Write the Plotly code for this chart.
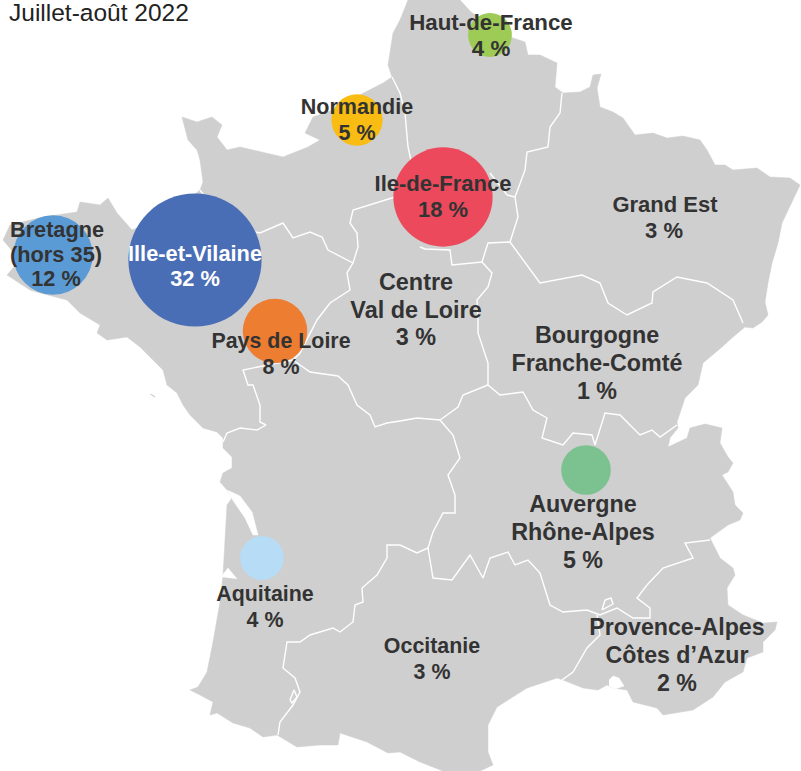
import plotly.graph_objects as go

# ---- Data -------------------------------------------------------------
regions = ["Bretagne", "Ille-et-Vilaine", "Pays de Loire", "Normandie", "Ile-de-France",
           "Haut-de-France", "Auvergne Rhône-Alpes", "Aquitaine"]
bubble_share = [11.5, 32.4, 7.6, 4.8, 18.0, 3.5, 4.5, 3.5]
bubble_x = [53, 195, 275, 357, 443, 490, 586, 262]
bubble_y = [255, 260, 331, 120, 197, 35, 470, 558]
bubble_colors = ["#5B9BD5", "#4A6EB5", "#ED7D31", "#F8BC12", "#EC4A5C", "#9ECB55", "#7CC190", "#B6DCF6"]

title_text = "Juillet-août 2022"

label_lines = ["Bretagne", "(hors 35)", "12 %", "Ille-et-Vilaine", "32 %", "Pays de Loire", "8 %",
               "Normandie", "5 %", "Ile-de-France", "18 %", "Haut-de-France", "4 %",
               "Grand Est", "3 %", "Centre", "Val de Loire", "3 %",
               "Bourgogne", "Franche-Comté", "1 %", "Auvergne", "Rhône-Alpes", "5 %",
               "Aquitaine", "4 %", "Occitanie", "3 %", "Provence-Alpes", "Côtes d’Azur", "2 %"]
label_x = [57, 56, 56, 195, 195, 281, 281, 357, 357, 443, 443, 491, 491,
           665, 664, 416, 416, 416, 597, 597, 597, 583, 583, 583, 265, 265, 432, 432, 677, 677, 677]
label_y = [232, 257, 281, 256, 281, 343, 369, 109, 135, 185, 211, 24, 50,
           206, 232, 284, 312, 339, 337, 365, 393, 506, 534, 562, 596, 622, 648, 674, 629, 657, 685]
label_size = [21.7, 21.8, 21.7, 21.8, 21.8, 21.4, 21.4, 21.5, 21.5, 22, 22, 22.3, 22.3,
              22, 22, 23.4, 23.4, 23.4, 23.3, 23.3, 23.3, 23.3, 23.3, 23.3, 21.4, 21.4, 21.4, 21.4, 23.2, 23.2, 23.2]

# Map outline, in the map's own units
country_x = [460, 471, 490, 510, 525, 528, 540, 557, 555, 563, 580, 590, 593, 601, 597, 600, 613, 623, 635, 653, 667,
             683, 700, 707, 715, 725, 733, 757, 770, 790, 800, 790, 782, 778, 772, 768, 765, 768, 762, 753, 745, 733,
             722, 703, 698, 685, 677, 678, 670, 668, 687, 690, 705, 722, 720, 728, 733, 728, 722, 733, 735, 743, 740,
             728, 710, 720, 733, 735, 727, 728, 743, 763, 777, 775, 763, 763, 747, 743, 725, 713, 693, 663, 657, 633,
             627, 613, 607, 598, 583, 563, 557, 527, 513, 497, 488, 488, 493, 480, 443, 420, 400,
             388, 367, 340, 338, 320, 297, 277, 263, 250, 233, 217, 210, 213, 200, 190, 198, 207, 213, 220, 223, 225,
             227, 232, 227, 220, 223, 232, 232, 223, 223, 217, 203, 190, 183, 177, 167, 163, 155, 140, 127, 107, 97,
             100, 80, 67, 40, 30, 7, 20, 3, 10, 43, 77, 80, 100, 108, 117, 132, 170, 200, 203, 200, 197, 188, 182,
             197, 212, 222, 217, 227, 240, 283, 308, 320, 305, 313, 333, 350, 383, 392, 388, 393, 400, 408, 460]
country_y = [0, 12, 25, 37, 42, 55, 55, 63, 87, 93, 92, 87, 75, 74, 88, 107, 112, 118, 135, 133, 138,
             136, 140, 150, 165, 165, 170, 168, 177, 178, 185, 207, 223, 243, 263, 283, 302, 315, 322, 328, 327, 337,
             347, 363, 385, 398, 422, 428, 438, 447, 438, 428, 424, 428, 443, 457, 463, 472, 475, 492, 505, 513, 520,
             525, 538, 558, 568, 575, 588, 605, 615, 623, 622, 630, 642, 652, 658, 672, 682, 697, 710, 715, 708, 702,
             690, 688, 685, 690, 688, 680, 678, 688, 697, 707, 725, 752, 765, 771, 771, 762, 752,
             753, 742, 733, 745, 745, 747, 735, 737, 728, 723, 713, 715, 702, 695, 690, 687, 672, 642, 602, 575, 535,
             505, 498, 490, 482, 473, 468, 457, 448, 438, 432, 428, 415, 405, 393, 385, 370, 362, 347, 337, 340, 333,
             325, 313, 300, 293, 290, 275, 260, 240, 225, 217, 212, 202, 205, 198, 213, 230, 215, 190, 182, 160, 150, 140, 117,
             122, 117, 125, 137, 150, 147, 157, 147, 140, 133, 117, 110, 100, 83, 77, 65, 33, 20, 0, 0]

# Region borders, in the map's own units
borders = [
    [(392, 77), (400, 93), (405, 113), (407, 133), (408, 147), (412, 165)],
    [(200, 190), (225, 225), (260, 233), (283, 223), (293, 238), (310, 232), (322, 237), (328, 250), (353, 263)],
    [(353, 263), (358, 247), (357, 233), (350, 223), (353, 210), (377, 203), (395, 197)],
    [(353, 263), (347, 273), (350, 290), (330, 303), (317, 320), (310, 333), (300, 353), (293, 360), (260, 367), (243, 370),
     (248, 385), (253, 385), (260, 405), (260, 422), (266, 425), (257, 430), (240, 428), (227, 433), (223, 442)],
    [(293, 360), (310, 372), (338, 376), (348, 385), (357, 405), (370, 415), (375, 427), (387, 423), (400, 421),
     (417, 418), (440, 420)],
    [(420, 247), (425, 249), (450, 250), (452, 265), (482, 262), (492, 273), (488, 287), (477, 300), (478, 320), (478, 333),
     (488, 363), (488, 385), (463, 395), (458, 407), (440, 420), (453, 435), (460, 458), (448, 475), (455, 495), (455, 513),
     (443, 513), (433, 532), (428, 548), (417, 553), (400, 545), (387, 545), (387, 558), (377, 575), (362, 588), (363, 602),
     (355, 605), (353, 622), (340, 632), (333, 628), (310, 635), (300, 642), (287, 642), (283, 668), (295, 678), (300, 692),
     (293, 705), (280, 722), (278, 735)],
    [(428, 548), (433, 578), (452, 580), (470, 555), (483, 578), (490, 558), (508, 552), (515, 565), (528, 560), (540, 573),
     (550, 605), (563, 612), (587, 610), (600, 615), (617, 608), (633, 618), (650, 618), (650, 608), (637, 598), (647, 585),
     (663, 568), (693, 558), (685, 543), (710, 540)],
    [(597, 615), (600, 635), (587, 648), (573, 672), (562, 680)],
    [(602, 610), (605, 600), (611, 598), (613, 604), (602, 610)],
    [(488, 385), (500, 395), (523, 392), (533, 410), (547, 418), (542, 438), (563, 445), (573, 433), (592, 435), (595, 445),
     (605, 413), (620, 415), (633, 428), (640, 435), (652, 430), (660, 437), (677, 425)],
    [(482, 262), (488, 243), (510, 242), (523, 260), (540, 283), (582, 275), (600, 283), (608, 303), (627, 315), (652, 303),
     (653, 292), (677, 277), (707, 283), (733, 300), (743, 323)],
    [(562, 93), (560, 113), (550, 127), (548, 147), (527, 152), (525, 170), (515, 197), (518, 217), (510, 242)],
    [(515, 197), (507, 195), (490, 173)],
    [(290, 700), (294, 690), (297, 697), (292, 703), (290, 700)],
]

# Water inside the outline, in the map's own units
water = [
    [(227, 490), (240, 496), (252, 512), (258, 535), (253, 535), (245, 518), (232, 499)],
    [(221, 577), (228, 568), (237, 579)],
    [(609, 680), (613, 676), (619, 678), (624, 686), (615, 689), (609, 686)],
]
island_x = [150, 155, 153]
island_y = [394, 397, 395]

# ---- Figure -----------------------------------------------------------
MAP_GREY = "#CFCFCF"
TEXT = "#333333"
BUBBLE_SCALE = 23.4

fig = go.Figure()
fig.add_trace(go.Scatter(x=country_x, y=country_y, mode="lines", fill="toself",
                         fillcolor=MAP_GREY, line=dict(color=MAP_GREY, width=0.5), hoverinfo="skip"))
fig.add_trace(go.Scatter(x=island_x, y=island_y, mode="lines", fill="toself",
                         fillcolor=MAP_GREY, line=dict(color=MAP_GREY, width=1), hoverinfo="skip"))
for w in water:
    fig.add_trace(go.Scatter(x=[p[0] for p in w], y=[p[1] for p in w], mode="lines", fill="toself",
                             fillcolor="white", line=dict(color="white", width=0.5), hoverinfo="skip"))
for b in borders:
    fig.add_trace(go.Scatter(x=[p[0] for p in b], y=[p[1] for p in b], mode="lines",
                             line=dict(color="white", width=1.4), hoverinfo="skip"))

fig.add_trace(go.Scatter(
    x=bubble_x, y=bubble_y, mode="markers", text=regions, customdata=bubble_share,
    marker=dict(size=[BUBBLE_SCALE * v ** 0.5 for v in bubble_share], color=bubble_colors,
                opacity=1, line=dict(width=0)),
    hovertemplate="%{text}: %{customdata} %<extra></extra>"))

label_colors = ["white" if t in ("Ille-et-Vilaine", "32 %") else TEXT for t in label_lines]
fig.add_trace(go.Scatter(
    x=label_x, y=label_y, mode="text", text=label_lines, textposition="middle center",
    textfont=dict(family="Liberation Sans", size=label_size, color=label_colors, weight="bold"),
    hoverinfo="skip"))

fig.update_layout(
    width=801, height=771, margin=dict(l=0, r=0, t=0, b=0), showlegend=False,
    paper_bgcolor="white", plot_bgcolor="white",
    xaxis=dict(range=[0, 801], visible=False, fixedrange=True),
    yaxis=dict(range=[771, 0], visible=False, fixedrange=True),
    annotations=[dict(text=title_text, x=7, y=12, xref="x", yref="y", xanchor="left", yanchor="middle",
                      showarrow=False, font=dict(family="Liberation Sans", size=24.5, color="#222222"))],
)
fig.write_html("out.html", post_script="document.body.style.margin='0';", config={"displayModeBar": False})
